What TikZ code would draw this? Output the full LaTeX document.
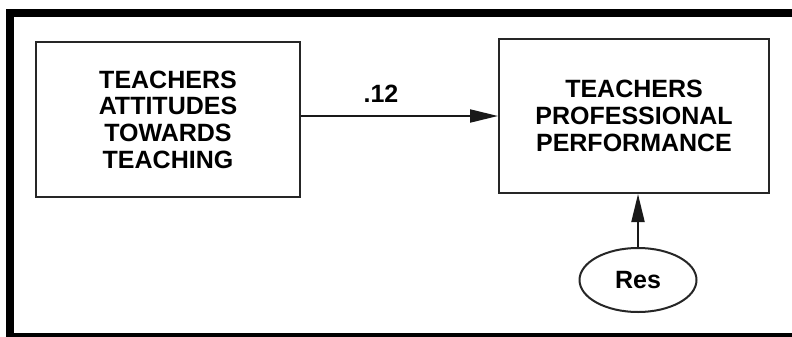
\documentclass[tikz,border=0pt]{standalone}
\usepackage{fontspec}
\setmainfont{Liberation Sans}
\usetikzlibrary{arrows.meta,shapes.geometric}
\begin{document}
\begin{tikzpicture}[x=1pt,y=-1pt,
  varbox/.style={draw=black!85,line width=2pt,rectangle,align=center,
    font=\fontsize{25}{26.7}\selectfont\bfseries,inner sep=0pt},
  errnode/.style={draw=black!85,line width=2pt,ellipse,inner sep=0pt,
    minimum width=117pt,minimum height=64pt,
    font=\fontsize{25}{26.7}\selectfont\bfseries},
  path/.style={line width=2pt,draw=black!90,-{Triangle[length=28pt,width=13pt]}},
  coef/.style={font=\fontsize{25}{26}\selectfont\bfseries,inner sep=0pt}]
\useasboundingbox (0,0) rectangle (792,337);
\fill[white] (0,0) rectangle (792,337);
% frame
\fill[black] (6,9) rectangle (792,17);
\fill[black] (6,9) rectangle (14,337);
\fill[black] (6,333) rectangle (792,337);
% nodes
\node[varbox,minimum width=264pt,minimum height=155pt] (L) at (168,119.5)
  {TEACHERS\\ATTITUDES\\TOWARDS\\TEACHING};
\node[varbox,minimum width=270pt,minimum height=154pt] (R) at (634,116)
  {TEACHERS\\PROFESSIONAL\\PERFORMANCE};
\node[errnode] (E) at (638,280) {Res};
\node[coef] (c) at (381,94) {.12};
% connectors
\draw[path] (L.east |- R.west) -- (R.west);
\draw[path] (E.north) -- (E.north |- R.south);
\end{tikzpicture}
\end{document}
